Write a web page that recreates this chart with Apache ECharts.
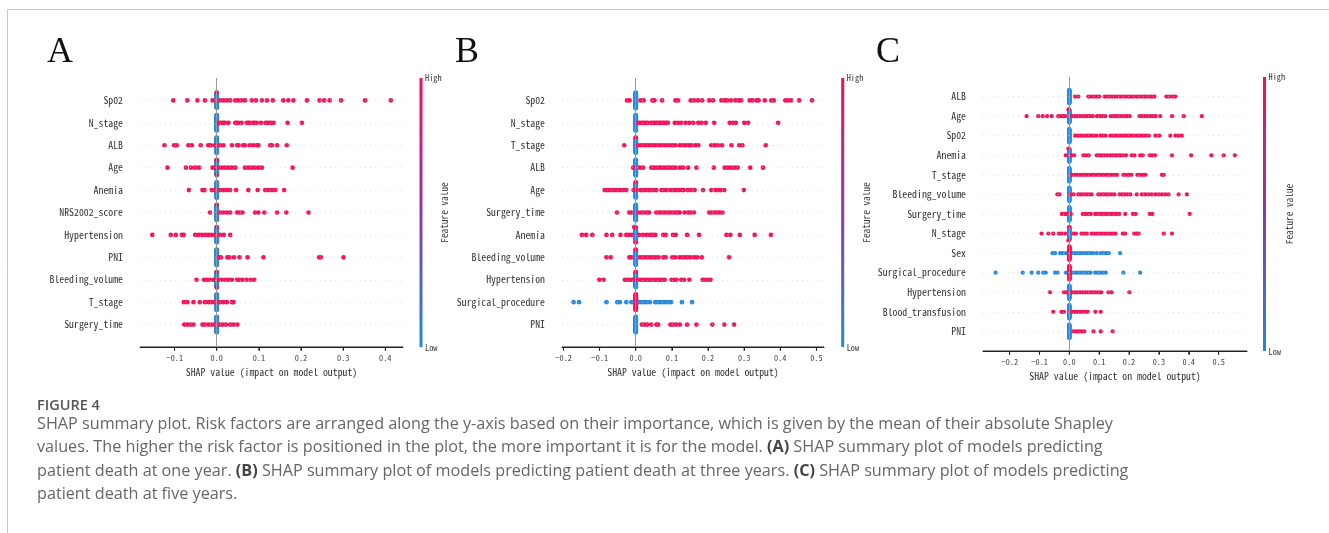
<!DOCTYPE html>
<html>
<head>
<meta charset="utf-8">
<script src="https://cdn.jsdelivr.net/npm/echarts@6/dist/echarts.min.js"></script>
<style>
html,body{margin:0;padding:0;background:#fff;}
#chart{width:1329px;height:533px;}
</style>
</head>
<body>
<div id="chart"></div>
<script>
// ---------------- DATA ----------------
// Panel A (one year)
const A_features = ['Sp02','N_stage','ALB','Age','Anemia','NRS2002_score','Hypertension','PNI','Bleeding_volume','T_stage','Surgery_time'];
const A_high = [
  [-0.103,-0.070,-0.046,-0.028,-0.010,0.008,0.016,0.024,0.032,0.044,0.051,0.059,0.067,0.083,0.093,0.107,0.119,0.133,0.158,0.170,0.182,0.214,0.244,0.255,0.268,0.295,0.352,0.413],
  [0.004,0.006,0.012,0.016,0.020,0.028,0.044,0.048,0.051,0.059,0.071,0.075,0.079,0.087,0.090,0.095,0.105,0.116,0.120,0.125,0.130,0.135,0.168,0.202],
  [-0.124,-0.101,-0.095,-0.067,-0.059,-0.038,-0.020,-0.014,-0.004,0.008,0.016,0.036,0.048,0.052,0.063,0.067,0.079,0.087,0.095,0.099,0.127,0.131,0.143,0.166],
  [-0.117,-0.073,-0.061,-0.051,-0.042,-0.010,-0.004,0.004,0.012,0.020,0.028,0.036,0.044,0.067,0.075,0.083,0.091,0.099,0.107,0.180],
  [-0.066,-0.034,-0.029,-0.012,-0.004,0.008,0.016,0.024,0.032,0.046,0.075,0.097,0.115,0.123,0.131,0.139,0.160],
  [-0.016,0.008,0.016,0.024,0.032,0.048,0.054,0.061,0.091,0.099,0.113,0.143,0.165,0.218],
  [-0.153,-0.109,-0.097,-0.083,-0.078,-0.051,-0.043,-0.035,-0.027,-0.020,-0.012,-0.004,0.008,0.017,0.032],
  [0.006,0.010,0.025,0.030,0.041,0.054,0.073,0.111,0.243,0.247,0.301],
  [-0.048,-0.030,-0.024,-0.016,-0.008,0.004,0.012,0.020,0.028,0.036,0.048,0.054,0.061,0.071,0.081,0.089],
  [-0.078,-0.070,-0.055,-0.040,-0.028,-0.020,-0.012,-0.004,0.008,0.016,0.024,0.036,0.040],
  [-0.077,-0.070,-0.062,-0.055,-0.034,-0.028,-0.020,-0.012,-0.004,0.008,0.014,0.022,0.032,0.040,0.049]
];
const A_low = [[],[],[],[],[],[],[],[],[],[],[]];
const A_zeroLow  = [45,45,45,45,45,45,45,45,45,45,45];
const A_zeroHigh = [1,0,0,3,0,1,1,0,2,0,0];
const A_ticks = [-0.1,0.0,0.1,0.2,0.3,0.4];

// Panel B (three years)
const B_features = ['Sp02','N_stage','T_stage','ALB','Age','Surgery_time','Anemia','Bleeding_volume','Hypertension','Surgical_procedure','PNI'];
const B_high = [
  [-0.024,-0.017,0.013,0.022,0.046,0.052,0.073,0.110,0.117,0.152,0.161,0.172,0.184,0.203,0.214,0.237,0.246,0.253,0.264,0.276,0.285,0.292,0.315,0.323,0.334,0.340,0.357,0.375,0.382,0.414,0.421,0.430,0.452,0.488],
  [0.006,0.010,0.016,0.020,0.025,0.030,0.034,0.043,0.048,0.053,0.058,0.062,0.067,0.071,0.076,0.080,0.085,0.089,0.108,0.117,0.126,0.138,0.148,0.159,0.173,0.182,0.194,0.217,0.260,0.269,0.277,0.300,0.311,0.394],
  [-0.032,0.006,0.014,0.022,0.030,0.038,0.046,0.054,0.062,0.070,0.078,0.086,0.094,0.102,0.110,0.122,0.130,0.138,0.146,0.154,0.165,0.173,0.209,0.218,0.227,0.239,0.265,0.286,0.295,0.360],
  [-0.007,0.011,0.020,0.043,0.050,0.057,0.065,0.072,0.080,0.088,0.095,0.103,0.110,0.122,0.131,0.145,0.168,0.216,0.246,0.255,0.264,0.273,0.282,0.317,0.352],
  [-0.086,-0.078,-0.071,-0.064,-0.056,-0.049,-0.042,-0.034,-0.026,-0.006,0.002,0.013,0.020,0.028,0.035,0.042,0.050,0.057,0.071,0.078,0.086,0.097,0.104,0.111,0.119,0.126,0.133,0.144,0.153,0.163,0.186,0.209,0.221,0.228,0.235,0.245,0.299],
  [-0.052,-0.018,-0.012,0.006,0.014,0.021,0.030,0.037,0.057,0.065,0.072,0.079,0.087,0.094,0.101,0.109,0.116,0.122,0.135,0.145,0.152,0.161,0.203,0.210,0.218,0.225,0.232,0.240],
  [-0.149,-0.137,-0.120,-0.081,-0.065,-0.042,-0.026,-0.018,-0.011,-0.004,0.009,0.020,0.030,0.039,0.046,0.054,0.076,0.083,0.103,0.111,0.142,0.175,0.251,0.262,0.288,0.329,0.374],
  [-0.081,-0.069,-0.018,-0.012,0.011,0.018,0.026,0.033,0.040,0.048,0.055,0.063,0.076,0.083,0.101,0.109,0.121,0.129,0.137,0.144,0.152,0.162,0.170,0.183,0.258],
  [-0.101,-0.089,-0.030,-0.023,-0.016,-0.008,0.006,0.014,0.021,0.029,0.036,0.043,0.051,0.058,0.066,0.073,0.080,0.099,0.106,0.113,0.126,0.134,0.148,0.185,0.192,0.199,0.207],
  [],
  [0.017,0.025,0.032,0.043,0.057,0.062,0.096,0.103,0.112,0.122,0.142,0.168,0.212,0.245,0.272]
];
const B_low = [[],[],[],[],[],[],[],[],[],
  [-0.172,-0.157,-0.081,-0.051,-0.044,-0.026,-0.012,-0.006,0.009,0.017,0.024,0.031,0.039,0.054,0.061,0.068,0.076,0.083,0.090,0.098,0.128,0.156],
  []];
const B_zeroLow  = [45,45,45,45,45,45,45,45,45,0,45];
const B_zeroHigh = [0,0,1,0,1,0,2,1,1,45,0];
const B_ticks = [-0.2,-0.1,0.0,0.1,0.2,0.3,0.4,0.5];

// Panel C (five years)
const C_features = ['ALB','Age','Sp02','Anemia','T_stage','Bleeding_volume','Surgery_time','N_stage','Sex','Surgical_procedure','Hypertension','Blood_transfusion','PNI'];
const C_high = [
  [0.019,0.030,0.064,0.073,0.082,0.091,0.100,0.118,0.127,0.135,0.144,0.153,0.162,0.171,0.180,0.189,0.198,0.207,0.216,0.225,0.234,0.243,0.252,0.261,0.270,0.276,0.285,0.325,0.336,0.347,0.355],
  [-0.143,-0.104,-0.089,-0.074,-0.059,-0.037,-0.028,-0.019,-0.014,-0.003,0.008,0.017,0.026,0.035,0.044,0.053,0.062,0.070,0.079,0.093,0.102,0.111,0.120,0.139,0.148,0.157,0.166,0.175,0.184,0.193,0.202,0.235,0.244,0.253,0.262,0.271,0.280,0.289,0.304,0.344,0.383,0.444],
  [0.019,0.028,0.037,0.046,0.055,0.063,0.072,0.081,0.090,0.103,0.112,0.121,0.137,0.146,0.155,0.164,0.173,0.182,0.190,0.199,0.208,0.217,0.228,0.237,0.246,0.255,0.266,0.288,0.301,0.338,0.355,0.366,0.377],
  [-0.012,-0.003,0.008,0.016,0.047,0.056,0.065,0.092,0.101,0.110,0.119,0.128,0.137,0.146,0.155,0.164,0.172,0.181,0.190,0.209,0.218,0.237,0.246,0.269,0.278,0.287,0.344,0.408,0.476,0.517,0.554],
  [0.008,0.017,0.026,0.035,0.044,0.053,0.062,0.071,0.080,0.089,0.098,0.107,0.115,0.124,0.133,0.142,0.151,0.160,0.181,0.190,0.199,0.208,0.228,0.237,0.246,0.255,0.310,0.316],
  [-0.040,-0.033,0.002,0.014,0.030,0.039,0.048,0.057,0.066,0.075,0.097,0.106,0.115,0.124,0.133,0.142,0.151,0.168,0.177,0.186,0.195,0.204,0.226,0.243,0.254,0.265,0.276,0.288,0.299,0.310,0.321,0.332,0.366,0.394],
  [-0.025,-0.015,-0.009,0.005,0.045,0.054,0.063,0.072,0.086,0.095,0.104,0.113,0.122,0.131,0.140,0.149,0.158,0.167,0.187,0.213,0.222,0.269,0.278,0.403],
  [-0.093,-0.070,-0.054,-0.035,-0.026,-0.014,-0.003,0.014,0.022,0.041,0.050,0.059,0.075,0.084,0.093,0.102,0.111,0.120,0.129,0.138,0.147,0.154,0.179,0.187,0.217,0.226,0.232,0.316,0.344],
  [],
  [],
  [-0.065,-0.018,-0.009,0.008,0.017,0.026,0.035,0.044,0.053,0.062,0.071,0.080,0.089,0.098,0.107,0.131,0.142,0.201],
  [-0.054,-0.026,-0.018,0.008,0.017,0.026,0.035,0.044,0.053,0.062,0.087,0.105],
  [0.014,0.023,0.032,0.041,0.050,0.081,0.105,0.145]
];
const C_low = [[],[],[],[],[],[],[],[],
  [-0.056,-0.048,-0.031,-0.023,-0.011,0.008,0.017,0.026,0.035,0.044,0.053,0.062,0.071,0.080,0.092,0.105,0.114,0.123,0.132,0.170],
  [-0.247,-0.156,-0.126,-0.104,-0.087,-0.079,-0.048,-0.039,-0.011,0.008,0.017,0.026,0.035,0.044,0.053,0.062,0.071,0.086,0.095,0.104,0.113,0.122,0.181,0.237],
  [],[],[]];
const C_zeroLow  = [45,45,45,45,45,45,45,45,0,0,45,45,45];
const C_zeroHigh = [0,0,0,0,0,0,0,1,45,45,0,0,0];
const C_ticks = [-0.2,-0.1,0.0,0.1,0.2,0.3,0.4,0.5];

const CAPTION_HEAD = 'FIGURE 4';
const CAPTION_LINES = [
  'SHAP summary plot. Risk factors are arranged along the y-axis based on their importance, which is given by the mean of their absolute Shapley',
  'values. The higher the risk factor is positioned in the plot, the more important it is for the model. {b|(A)} SHAP summary plot of models predicting',
  'patient death at one year. {b|(B)} SHAP summary plot of models predicting patient death at three years. {b|(C)} SHAP summary plot of models predicting',
  'patient death at five years.'
];

// ---------------- STYLE / LAYOUT ----------------
const RED = '#f5155c';
const BLUE = '#2a8ade';
const MONO = "'Noto Sans Mono CJK SC','Noto Sans CJK SC','DejaVu Sans Mono',monospace";

const panels = [
  {letter:'A', feats:A_features, high:A_high, low:A_low, zl:A_zeroLow, zh:A_zeroHigh, ticks:A_ticks,
   left:140, top:78, width:263, height:269, min:-0.182, max:0.442, cbx:419.5, letterX:47, fvx:444, sym:4.7, nameGap:18},
  {letter:'B', feats:B_features, high:B_high, low:B_low, zl:B_zeroLow, zh:B_zeroHigh, ticks:B_ticks,
   left:562, top:78, width:262, height:269, min:-0.204, max:0.521, cbx:841.2, letterX:455, fvx:866.5, sym:4.7, nameGap:18},
  {letter:'C', feats:C_features, high:C_high, low:C_low, zl:C_zeroLow, zh:C_zeroHigh, ticks:C_ticks,
   left:983, top:77, width:264, height:274, min:-0.289, max:0.595, cbx:1263, letterX:876, fvx:1289, sym:4.3, nameGap:17}
];

// beeswarm layout (SHAP-style): bin values, stack points alternately above/below
function swarm(vals, nbins) {
  const N = vals.length;
  if (!N) return [];
  let mn = Infinity, mx = -Infinity;
  vals.forEach(v => { mn = Math.min(mn, v); mx = Math.max(mx, v); });
  const q = vals.map(v => Math.round(nbins * (v - mn) / (mx - mn + 1e-8)));
  const idx = vals.map((v, i) => i).sort((a, b) => (q[a] - q[b]) || (a - b));
  const ys = new Array(N).fill(0);
  let layer = 0, last = -1;
  idx.forEach(i => {
    if (q[i] !== last) layer = 0;
    ys[i] = Math.ceil(layer / 2) * ((layer % 2) * 2 - 1);
    layer += 1; last = q[i];
  });
  let m = 0; ys.forEach(y => { m = Math.max(m, y + 1); });
  const s = 0.9 * (0.4 / m);
  return ys.map(y => y * s);
}

const fmt = v => (Math.abs(v) < 1e-9 ? '0.0' : v.toFixed(1).replace('-', '\u2212'));

const option = {
  animation: false,
  grid: [], xAxis: [], yAxis: [], series: [], graphic: []
};

panels.forEach((p, pi) => {
  const N = p.feats.length;
  const rowOf = k => N - k;           // rows at 1..N, y range [0, N+1]
  const rowVals = p.feats.map((f, k) => rowOf(k));
  option.grid.push({left: p.left, top: p.top, width: p.width, height: p.height, containLabel: false});
  option.xAxis.push({
    type: 'value', gridIndex: pi, min: p.min, max: p.max, position: 'bottom',
    name: 'SHAP value (impact on model output)', nameLocation: 'middle', nameGap: p.nameGap,
    nameTextStyle: {fontFamily: MONO, fontSize: 9.8, color: '#333'},
    axisLine: {show: true, lineStyle: {color: '#222', width: 1}},
    axisTick: {show: true, length: 3.5, customValues: p.ticks, lineStyle: {color: '#222', width: 1}},
    axisLabel: {show: true, customValues: p.ticks, formatter: fmt, margin: 7, fontFamily: MONO, fontSize: 8.3, color: '#444'},
    splitLine: {show: false}
  });
  option.yAxis.push({
    type: 'value', gridIndex: pi, min: 0, max: N + 1, position: 'left',
    axisLine: {show: false, onZero: false}, axisTick: {show: false}, splitLine: {show: false},
    axisLabel: {show: true, customValues: rowVals, margin: 17, fontFamily: MONO, fontSize: 9.8, color: '#333',
      formatter: v => p.feats[N - Math.round(v)]}
  });

  const lowPts = [], highPts = [];
  p.feats.forEach((f, k) => {
    const vals = [], cols = [];
    for (let i = 0; i < p.zl[k]; i++) { vals.push(0); cols.push(0); }
    for (let i = 0; i < p.zh[k]; i++) { vals.push(0); cols.push(1); }
    p.low[k].forEach(v => { vals.push(v); cols.push(0); });
    p.high[k].forEach(v => { vals.push(v); cols.push(1); });
    const off = swarm(vals, 100);
    const row = rowOf(k);
    vals.forEach((v, i) => {
      (cols[i] ? highPts : lowPts).push([v, row + off[i]]);
    });
  });

  const ml = rowVals.map(r => ({yAxis: r}));
  ml.push({xAxis: 0, lineStyle: {color: '#999999', width: 1, type: 'solid'}});
  option.series.push({
    type: 'scatter', xAxisIndex: pi, yAxisIndex: pi, data: [], z: 1, silent: true,
    markLine: {silent: true, symbol: 'none', label: {show: false}, animation: false,
      lineStyle: {color: '#cccccc', width: 0.6, type: [1, 4]}, data: ml}
  });
  option.series.push({
    type: 'scatter', xAxisIndex: pi, yAxisIndex: pi, data: lowPts, z: 2,
    symbolSize: p.sym, itemStyle: {color: BLUE, opacity: 1}, silent: true
  });
  option.series.push({
    type: 'scatter', xAxisIndex: pi, yAxisIndex: pi, data: highPts, z: 3,
    symbolSize: p.sym, itemStyle: {color: RED, opacity: 1}, silent: true
  });

  // bottom spine and tick marks (positions from the panel's axis range)
  const bottom = p.top + p.height;
  option.graphic.push({type: 'rect', shape: {x: p.left, y: bottom - 0.5, width: p.width, height: 1.1}, style: {fill: '#222'}});
  p.ticks.forEach(v => {
    const x = p.left + (v - p.min) / (p.max - p.min) * p.width;
    option.graphic.push({type: 'rect', shape: {x: x - 0.5, y: bottom, width: 1, height: 3.8}, style: {fill: '#222'}});
  });

  // colorbar
  option.graphic.push({
    type: 'rect', shape: {x: p.cbx, y: p.top, width: 3, height: p.height},
    style: {fill: new echarts.graphic.LinearGradient(0, 0, 0, 1, [
      {offset: 0, color: '#ff0a55'}, {offset: 0.5, color: '#8c3aa8'}, {offset: 1, color: '#1e8ae6'}])}
  });
  option.graphic.push({type: 'text', x: p.cbx + 5.5, y: p.top, style: {text: 'High', fontFamily: MONO, fontSize: 8.3, fill: '#333', verticalAlign: 'middle', align: 'left'}});
  option.graphic.push({type: 'text', x: p.cbx + 5.5, y: p.top + p.height + 1, style: {text: 'Low', fontFamily: MONO, fontSize: 8.3, fill: '#333', verticalAlign: 'middle', align: 'left'}});
  option.graphic.push({type: 'text', x: p.fvx, y: p.top + p.height / 2, rotation: Math.PI / 2,
    style: {text: 'Feature value', fontFamily: MONO, fontSize: 9.3, fill: '#333', verticalAlign: 'middle', align: 'center'}});
  option.graphic.push({type: 'text', x: p.letterX, y: 71, style: {text: p.letter, fontFamily: "'Liberation Serif','DejaVu Serif',serif", fontSize: 36, fill: '#111', verticalAlign: 'bottom', align: 'left'}});
});

// frame
option.graphic.push({type: 'line', shape: {x1: 7.5, y1: 9.5, x2: 1329, y2: 9.5}, style: {stroke: '#c8c8c8', lineWidth: 1}});
option.graphic.push({type: 'line', shape: {x1: 7.5, y1: 9.5, x2: 7.5, y2: 533}, style: {stroke: '#c8c8c8', lineWidth: 1}});

// caption
const CAP_FONT = "'Open Sans','Lato','Noto Sans',sans-serif";
option.graphic.push({type: 'text', x: 37, y: 406, style: {text: CAPTION_HEAD, fontFamily: CAP_FONT, fontSize: 14.5, fontWeight: 600, fill: '#555', verticalAlign: 'middle', lineHeight: 13}});
CAPTION_LINES.forEach((t, i) => {
  option.graphic.push({type: 'text', x: 37, y: 424 + i * 23.5, style: {
    text: t, fontFamily: CAP_FONT, fontSize: 16.2, fill: '#666', verticalAlign: 'middle', lineHeight: 17,
    rich: {b: {fontFamily: CAP_FONT, fontSize: 16.2, fontWeight: 'bold', fill: '#444', verticalAlign: 'middle', lineHeight: 17}}
  }});
});

const chart = echarts.init(document.getElementById('chart'), null, {renderer: 'canvas', width: 1329, height: 533});
chart.setOption(option);
</script>
</body>
</html>
